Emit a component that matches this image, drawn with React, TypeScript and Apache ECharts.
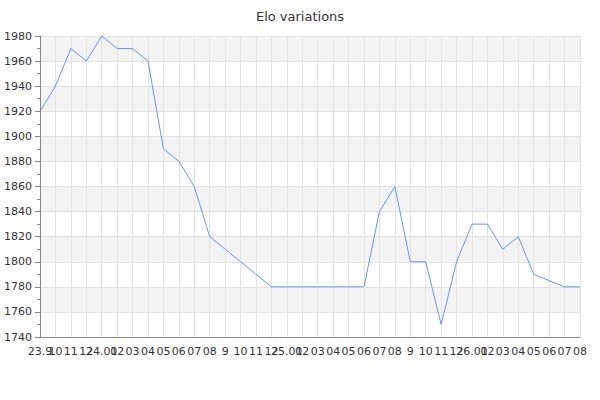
import React, { useEffect, useRef } from "react";
import * as echarts from "echarts";

const categories = [
  "23.9", "10", "11", "12",
  "24.01", "02", "03", "04", "05", "06", "07", "08", "9", "10", "11", "12",
  "25.01", "02", "03", "04", "05", "06", "07", "08", "9", "10", "11", "12",
  "26.01", "02", "03", "04", "05", "06", "07", "08",
];

const eloValues = [
  1920, 1940, 1970, 1960, 1980, 1970, 1970, 1960, 1890, 1880, 1860, 1820,
  1810, 1800, 1790, 1780, 1780, 1780, 1780, 1780, 1780, 1780, 1840, 1860,
  1800, 1800, 1750, 1800, 1830, 1830, 1810, 1820, 1790, 1785, 1780, 1780,
];

const yMin = 1740;
const yMax = 1980;
const yStep = 20;

export default function App() {
  const ref = useRef<HTMLDivElement>(null);
  useEffect(() => {
    if (!ref.current) return;
    const chart = echarts.init(ref.current, undefined, { renderer: "svg" });
    chart.setOption({
      animation: false,
      textStyle: { fontFamily: "DejaVu Sans" },
      title: {
        text: "Elo variations",
        left: "center",
        top: 5,
        textStyle: { fontSize: 13, fontWeight: "normal", color: "#333", fontFamily: "DejaVu Sans" },
      },
      grid: { left: 40, right: 20, top: 36, bottom: 63 },
      xAxis: {
        type: "category",
        data: categories,
        boundaryGap: false,
        axisLine: { show: true, lineStyle: { color: "#888" } },
        axisTick: { show: false },
        axisLabel: { interval: 0, fontSize: 11, color: "#333", margin: 9 },
        splitLine: { show: true, lineStyle: { color: "#e3e3e3" } },
      },
      yAxis: {
        type: "value",
        min: yMin,
        max: yMax,
        interval: yStep,
        axisLine: { show: true, lineStyle: { color: "#888" } },
        axisTick: { show: true, length: 5, lineStyle: { color: "#888" } },
        minorTick: { show: true, splitNumber: 2, length: 3, lineStyle: { color: "#888" } },
        axisLabel: { fontSize: 11, color: "#333", margin: 8, formatter: (v: number) => String(v) },
        splitLine: { show: true, lineStyle: { color: "#e3e3e3" } },
        splitArea: { show: true, areaStyle: { color: ["#ffffff", "#f3f3f3"] } },
      },
      series: [
        {
          type: "line",
          data: eloValues,
          showSymbol: false,
          symbol: "none",
          lineStyle: { color: "#6495ed", width: 1 },
          itemStyle: { color: "#6495ed" },
        },
      ],
    });
    return () => chart.dispose();
  }, []);
  return (
    <div
      ref={ref}
      style={{ position: "absolute", left: 0, top: 0, width: 600, height: 400 }}
    />
  );
}
